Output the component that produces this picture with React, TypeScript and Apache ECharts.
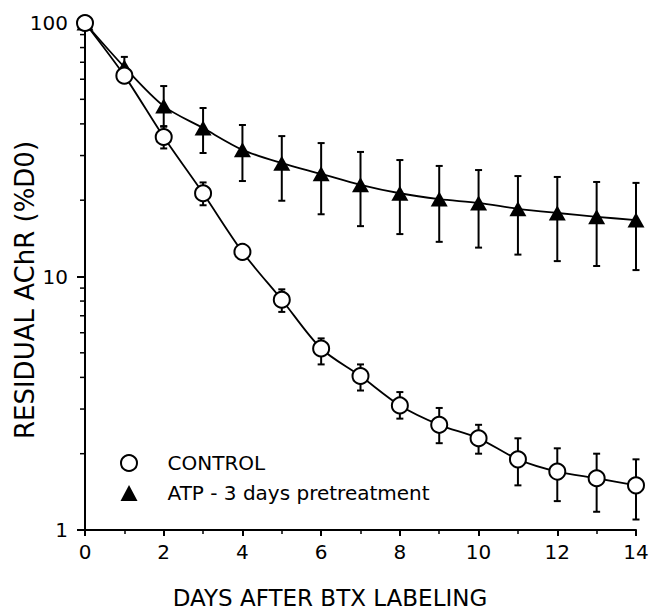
import React, { useEffect, useRef } from "react";
import * as echarts from "echarts";

// Days after BTX labeling
const days = [0, 1, 2, 3, 4, 5, 6, 7, 8, 9, 10, 11, 12, 13, 14];

// Residual AChR (% of day 0), control cultures
const controlMean = [100, 62, 35.5, 21.3, 12.5, 8.1, 5.2, 4.05, 3.1, 2.6, 2.3, 1.9, 1.7, 1.6, 1.5];
const controlUpper = [100, 66, 39, 23.5, 13, 8.9, 5.7, 4.5, 3.5, 3.03, 2.6, 2.3, 2.1, 2.0, 1.9];
const controlLower = [100, 59, 32, 19.1, 12, 7.25, 4.5, 3.55, 2.75, 2.2, 2.0, 1.5, 1.3, 1.18, 1.1];

// Residual AChR (% of day 0), ATP 3-day pretreatment
const atpMean = [100, 67, 47, 38.5, 31.6, 28, 25.4, 23, 21.3, 20.2, 19.5, 18.5, 17.8, 17.2, 16.7];
const atpUpper = [100, 73.5, 56.4, 46.2, 39.6, 35.8, 33.6, 31, 28.8, 27.3, 26.3, 24.9, 24.7, 23.6, 23.4];
const atpLower = [100, 61, 39.2, 30.7, 23.8, 19.9, 17.6, 15.8, 14.7, 13.7, 13.0, 12.2, 11.5, 11.0, 10.6];

// Axis ticks
const xTickInterval = 2;
const yMinorTickValues = [2, 3, 4, 5, 6, 7, 8, 9, 20, 30, 40, 50, 60, 70, 80, 90];

const seriesNames = ["CONTROL", "ATP - 3 days pretreatment"];
const xTitle = "DAYS AFTER BTX LABELING";
const yTitle = "RESIDUAL AChR (%D0)";

const FONT = "'DejaVu Sans', sans-serif";

function errorBarData(upper: number[], lower: number[]) {
  return days
    .map((d, i) => [d, upper[i], lower[i]])
    .filter((r) => r[1] !== r[2]);
}

function renderErrorBar(_params: any, api: any) {
  const x = api.value(0);
  const top = api.coord([x, api.value(1)]);
  const bot = api.coord([x, api.value(2)]);
  const cap = 3.5;
  const style = { stroke: "#000", lineWidth: 2 };
  return {
    type: "group",
    children: [
      { type: "line", shape: { x1: top[0], y1: top[1], x2: bot[0], y2: bot[1] }, style },
      { type: "line", shape: { x1: top[0] - cap, y1: top[1], x2: top[0] + cap, y2: top[1] }, style },
      { type: "line", shape: { x1: bot[0] - cap, y1: bot[1], x2: bot[0] + cap, y2: bot[1] }, style },
    ],
  };
}

// Short outward ticks on the left axis at the log-scale minor values
function renderMinorTick(_params: any, api: any) {
  const p = api.coord([0, api.value(1)]);
  return {
    type: "line",
    shape: { x1: p[0] - 5, y1: p[1], x2: p[0], y2: p[1] },
    style: { stroke: "#000", lineWidth: 1.5 },
  };
}

export default function App() {
  const ref = useRef<HTMLDivElement>(null);

  useEffect(() => {
    if (!ref.current) return;
    const chart = echarts.init(ref.current, undefined, { renderer: "svg" });

    const axisLabel = { color: "#000", fontFamily: FONT, fontSize: 20 };

    chart.setOption({
      animation: false,
      backgroundColor: "#fff",
      grid: {
        left: 85,
        right: 13,
        top: 23,
        bottom: 80,
        containLabel: false,
        outerBoundsMode: "none",
      },
      legend: {
        orient: "vertical",
        left: 115,
        top: 448,
        itemWidth: 17,
        itemHeight: 16,
        itemGap: 10,
        selectedMode: false,
        textStyle: {
          color: "#000",
          fontFamily: FONT,
          fontSize: 20,
          lineHeight: 16,
          padding: [0, 0, 0, 25],
        },
        data: [
          {
            name: seriesNames[0],
            icon: "circle",
            itemStyle: { color: "#fff", borderColor: "#000", borderWidth: 2 },
          },
          {
            name: seriesNames[1],
            icon: "triangle",
            itemStyle: { color: "#000", borderWidth: 0 },
          },
        ],
      },
      xAxis: {
        type: "value",
        min: 0,
        max: 14,
        interval: xTickInterval,
        axisLine: { show: true, lineStyle: { color: "#000", width: 2 } },
        axisTick: { show: true, length: 6, lineStyle: { color: "#000", width: 2 } },
        minorTick: { show: true, splitNumber: 2, length: 4, lineStyle: { color: "#000", width: 1.5 } },
        axisLabel: { ...axisLabel, margin: 12 },
        splitLine: { show: false },
        minorSplitLine: { show: false },
      },
      yAxis: {
        type: "log",
        logBase: 10,
        min: 1,
        max: 100,
        interval: 1,
        position: "left",
        axisLine: { show: true, lineStyle: { color: "#000", width: 2 } },
        axisTick: { show: true, length: 8, lineStyle: { color: "#000", width: 2 } },
        axisLabel: { ...axisLabel, margin: 17 },
        splitLine: { show: false },
      },
      graphic: [
        {
          type: "text",
          x: 330,
          y: 598,
          style: {
            text: xTitle,
            fill: "#000",
            font: `23px ${FONT}`,
            textAlign: "center",
            textVerticalAlign: "middle",
          },
        },
        {
          type: "text",
          x: 25,
          y: 290,
          rotation: Math.PI / 2,
          style: {
            text: yTitle,
            fill: "#000",
            font: `26px ${FONT}`,
            textAlign: "center",
            textVerticalAlign: "middle",
          },
        },
      ],
      series: [
        {
          type: "custom",
          name: "minor-ticks",
          renderItem: renderMinorTick,
          data: yMinorTickValues.map((v) => [0, v]),
          encode: { x: 0, y: 1 },
          clip: false,
          silent: true,
          z: 1,
        },
        {
          type: "custom",
          name: "control-error",
          renderItem: renderErrorBar,
          data: errorBarData(controlUpper, controlLower),
          encode: { x: 0, y: [1, 2] },
          z: 1,
          silent: true,
        },
        {
          type: "custom",
          name: "atp-error",
          renderItem: renderErrorBar,
          data: errorBarData(atpUpper, atpLower),
          encode: { x: 0, y: [1, 2] },
          z: 1,
          silent: true,
        },
        {
          type: "line",
          name: seriesNames[1],
          data: days.map((d, i) => [d, atpMean[i]]),
          smooth: 0.3,
          symbol: "triangle",
          symbolSize: [17, 15],
          showAllSymbol: true,
          itemStyle: { color: "#000", borderWidth: 0 },
          lineStyle: { color: "#000", width: 1.8 },
          z: 3,
        },
        {
          type: "line",
          name: seriesNames[0],
          data: days.map((d, i) => [d, controlMean[i]]),
          smooth: 0.3,
          symbol: "circle",
          symbolSize: 16,
          showAllSymbol: true,
          itemStyle: { color: "#fff", borderColor: "#000", borderWidth: 2 },
          lineStyle: { color: "#000", width: 1.8 },
          z: 4,
        },
      ],
    });

    return () => chart.dispose();
  }, []);

  return (
    <div
      ref={ref}
      style={{ position: "fixed", left: 0, top: 0, width: 649, height: 610 }}
    />
  );
}
